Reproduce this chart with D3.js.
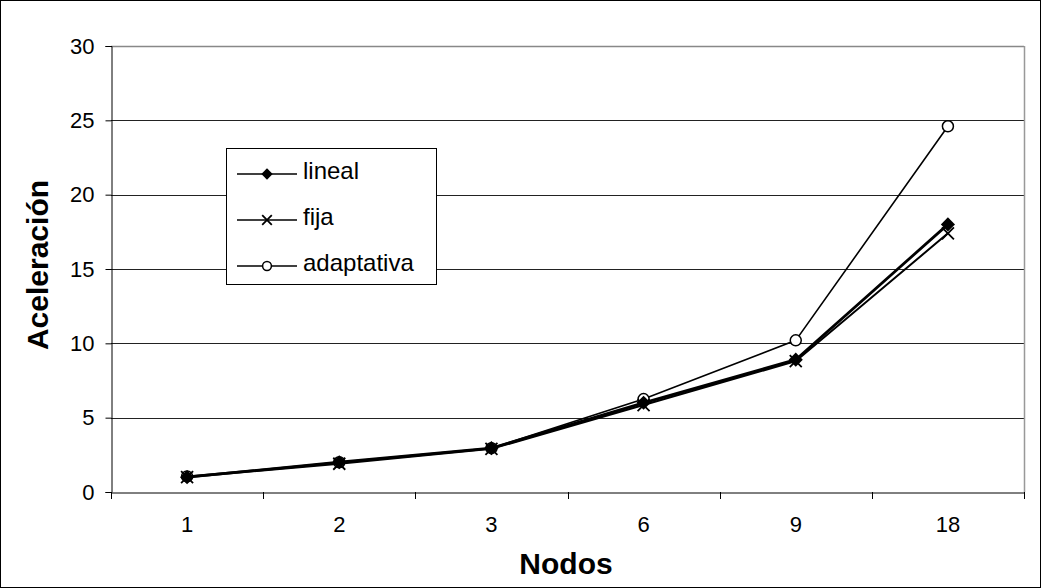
<!DOCTYPE html>
<html><head><meta charset="utf-8">
<script src="https://cdn.jsdelivr.net/npm/d3@7"></script>
<style>body{margin:0;background:#fff}svg{display:block}text{font-family:"Liberation Sans",Arial,sans-serif}</style>
</head><body>
<script>
const categories = ["1","2","3","6","9","18"];
const lineal = [1.0, 2.0, 2.95, 6.0, 8.9, 18.0];
const fija = [1.0, 1.9, 2.9, 5.85, 8.8, 17.4];
const adaptativa = [1.05, 2.0, 2.95, 6.25, 10.2, 24.6];
const yTicks = [0,5,10,15,20,25,30];
const seriesNames = ["lineal","fija","adaptativa"];

const W=1041,H=588;
const svg=d3.select("body").append("svg").attr("width",W).attr("height",H);
svg.append("rect").attr("x",0.5).attr("y",0.5).attr("width",W-1).attr("height",H-1).attr("fill","#fff").attr("stroke","#000");
const L=111,R=1024,T=46,B=492;
const x=d3.scaleBand().domain(categories).range([L,R]);
const y=d3.scaleLinear().domain([0,30]).range([B,T]);

// gridlines
svg.append("g").selectAll("line").data(yTicks.filter(d=>d>0)).join("line")
 .attr("x1",L).attr("x2",R).attr("y1",d=>Math.round(y(d))+0.5).attr("y2",d=>Math.round(y(d))+0.5)
 .attr("stroke",d=>d===30?"#888":"#222").attr("stroke-width",d=>d===30?1.5:1);
// right border
svg.append("line").attr("x1",R+0.5).attr("x2",R+0.5).attr("y1",T).attr("y2",B).attr("stroke","#999").attr("stroke-width",1.5);

// y axis
const ya=svg.append("g").attr("transform",`translate(${L+0.5},0)`).call(d3.axisLeft(y).tickValues(yTicks).tickSize(6).tickPadding(11));
ya.select(".domain").attr("stroke","#000");
ya.selectAll(".tick line").attr("stroke","#000");
ya.selectAll("text").attr("font-size",22).attr("fill","#000").attr("font-family","Liberation Sans, Arial, sans-serif");

// x axis
const xa=svg.append("g").attr("transform",`translate(0,${B+0.5})`).call(d3.axisBottom(x).tickSize(0).tickPadding(24));
xa.select(".domain").attr("stroke","#000");
xa.selectAll("text").attr("font-size",22).attr("fill","#000").attr("font-family","Liberation Sans, Arial, sans-serif");
const bounds=categories.map(c=>x(c)).concat([R]);
svg.append("g").selectAll("line").data(bounds).join("line")
 .attr("x1",d=>Math.round(d)+0.5).attr("x2",d=>Math.round(d)+0.5).attr("y1",B).attr("y2",B+7).attr("stroke","#000");

const cx=c=>x(c)+x.bandwidth()/2;
const line=d3.line().x((d,i)=>cx(categories[i])).y(d=>y(d));
const data=[
 {name:"fija",vals:fija,w:2},
 {name:"adaptativa",vals:adaptativa,w:1.6},
 {name:"lineal",vals:lineal,w:2.8}
];
data.forEach(s=>{
  svg.append("path").attr("d",line(s.vals)).attr("fill","none").attr("stroke","#000").attr("stroke-width",s.w);
});
function marker(g,name,px,py,k){
  if(name==="lineal"){
    g.append("path").attr("d",d3.symbol(d3.symbolSquare,100*k*k)()).attr("transform",`translate(${px},${py}) rotate(45)`).attr("fill","#000");
  } else if(name==="fija"){
    const s=6*k;
    g.append("path").attr("d",`M${px-s},${py-s}L${px+s},${py+s}M${px-s},${py+s}L${px+s},${py-s}`).attr("stroke","#000").attr("stroke-width",1.8);
  } else {
    g.append("circle").attr("cx",px).attr("cy",py).attr("r",5.5*k).attr("fill","#fff").attr("stroke","#000").attr("stroke-width",1.5);
  }
}
const mg=svg.append("g");
["adaptativa","lineal","fija"].forEach(n=>{
  const vals={lineal,fija,adaptativa}[n];
  vals.forEach((v,i)=>marker(mg,n,cx(categories[i]),y(v),1));
});

// legend
const lg=svg.append("g");
lg.append("rect").attr("x",226.5).attr("y",148.5).attr("width",210).attr("height",136).attr("fill","#fff").attr("stroke","#000");
const legY=[174,220,266];
seriesNames.forEach((n,i)=>{
  lg.append("line").attr("x1",237).attr("x2",297).attr("y1",legY[i]).attr("y2",legY[i]).attr("stroke","#000").attr("stroke-width",1.5);
  marker(lg,n,267,legY[i],0.8);
  lg.append("text").attr("x",303).attr("y",legY[i]+5).attr("font-size",24).text(n);
});

// axis titles
svg.append("text").attr("x",566).attr("y",574).attr("text-anchor","middle").attr("font-size",30).attr("font-weight","bold").text("Nodos");
svg.append("text").attr("transform","translate(48,265) rotate(-90)").attr("text-anchor","middle").attr("font-size",30).attr("font-weight","bold").text("Aceleración");
</script>
</body></html>
